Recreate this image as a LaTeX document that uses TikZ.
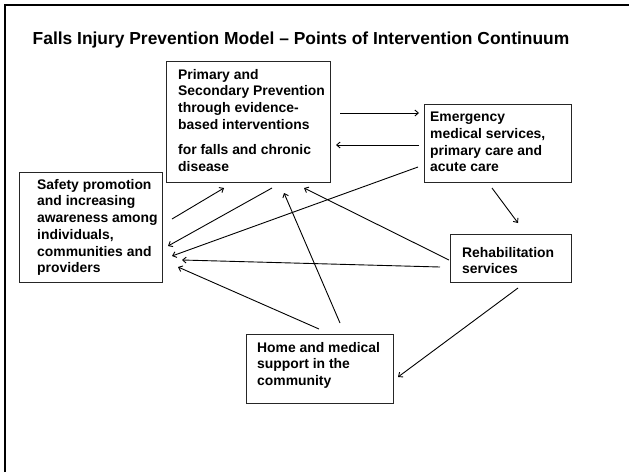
\documentclass[tikz,border=0pt]{standalone}
\usepackage{fontspec}
\setmainfont{Liberation Sans}
\usetikzlibrary{arrows.meta}
\begin{document}
\begin{tikzpicture}[x=1pt,y=-1pt,
  box/.style={draw=black!85,line width=0.9pt,anchor=north west,inner sep=0pt},
  label/.style={anchor=north west,inner sep=0pt,align=left,
    font=\fontsize{13.9}{16.7}\selectfont\bfseries},
  arr/.style={line width=0.9pt,-{Straight Barb[length=3.5pt,width=6pt]}},
  frame/.style={line width=2pt,black}]
\useasboundingbox (0,0) rectangle (629,472);
% page frame (top and left rules)
\draw[frame] (5,472) -- (5,5) -- (629,5);
% title
\node[anchor=north west,inner sep=0pt,font=\fontsize{17.4}{20}\selectfont\bfseries]
  (title) at (32.5,32) {Falls Injury Prevention Model -- Points of Intervention Continuum};
% boxes
\node[box,minimum width=164pt,minimum height=121pt] (prim) at (166,61) {};
\node[box,minimum width=147pt,minimum height=78pt]  (emer) at (424,104) {};
\node[box,minimum width=143pt,minimum height=110pt] (safe) at (19,172) {};
\node[box,minimum width=121pt,minimum height=48pt]  (rehab) at (450,234) {};
\node[box,minimum width=147pt,minimum height=69pt]  (home) at (246,334) {};
% box texts
\node[label] (primtext) at (178,69) {Primary and\\Secondary Prevention\\through evidence-\\based interventions\\[8.3pt]for falls and chronic\\disease};
\node[label] (emertext) at (430,112) {Emergency\\medical services,\\primary care and\\acute care};
\node[label] (safetext) at (37,179) {Safety promotion\\and increasing\\awareness among\\individuals,\\communities and\\providers};
\node[label] (rehabtext) at (462,247) {Rehabilitation\\services};
\node[label] (hometext) at (257,342) {Home and medical\\support in the\\community};
% connector end points
\coordinate (prim-out1) at (340,113);   \coordinate (emer-in1) at (419,113);
\coordinate (emer-out1) at (419,145);   \coordinate (prim-in1) at (336,145);
\coordinate (emer-out2) at (418,167);   \coordinate (safe-in1) at (172,256);
\coordinate (prim-out2) at (272,188);   \coordinate (safe-in2) at (168,246);
\coordinate (safe-out1) at (172,219);   \coordinate (prim-in2) at (224,188);
\coordinate (home-out1) at (340,323);   \coordinate (prim-in3) at (284,193);
\coordinate (rehab-out1) at (449,260);  \coordinate (prim-in4) at (304,188);
\coordinate (rehab-out2) at (440,267);  \coordinate (safe-in3) at (182,260);
\coordinate (home-out2) at (319,329);   \coordinate (safe-in4) at (178,267);
\coordinate (emer-out3) at (492,188);   \coordinate (rehab-in1) at (518,223);
\coordinate (rehab-out3) at (518,288);  \coordinate (home-in1) at (398,377);
% connectors
\draw[arr] (prim-out1) -- (emer-in1);
\draw[arr] (emer-out1) -- (prim-in1);
\draw[arr] (emer-out2) -- (safe-in1);
\draw[arr] (prim-out2) -- (safe-in2);
\draw[arr] (safe-out1) -- (prim-in2);
\draw[arr] (home-out1) -- (prim-in3);
\draw[arr] (rehab-out1) -- (prim-in4);
\draw[arr] (rehab-out2) -- (safe-in3);
\draw[arr] (home-out2) -- (safe-in4);
\draw[arr] (emer-out3) -- (rehab-in1);
\draw[arr] (rehab-out3) -- (home-in1);
\end{tikzpicture}
\end{document}
